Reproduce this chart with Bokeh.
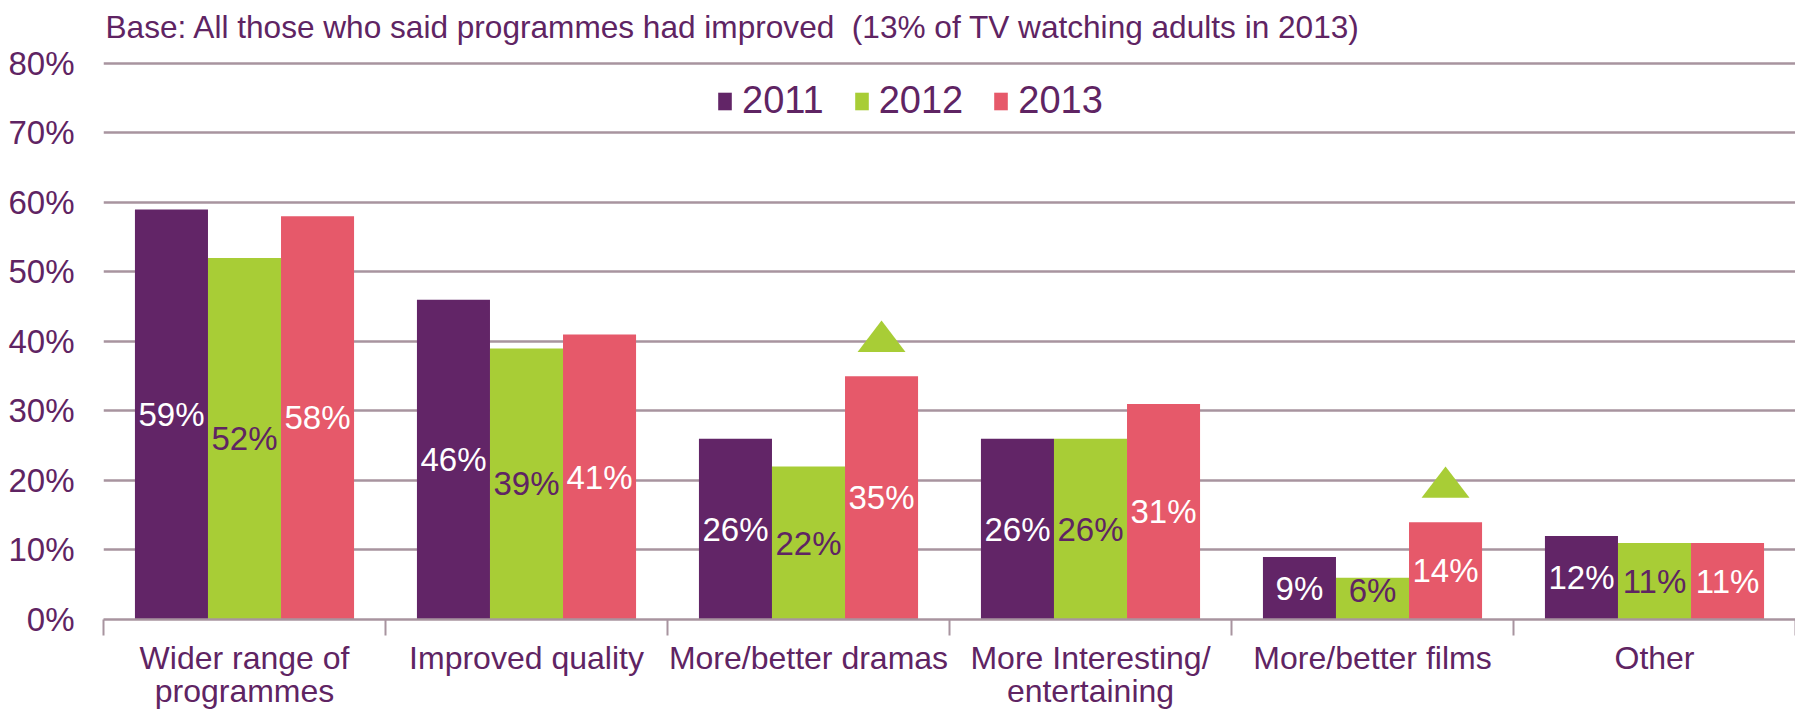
import numpy as np
from bokeh.plotting import figure
from bokeh.models import FixedTicker, Legend, LegendItem, ColumnDataSource, Range1d
from bokeh.core.properties import value
from bokeh.embed import file_html
from bokeh.resources import INLINE

# ---- data ----
categories = ["Wider range of\nprogrammes", "Improved quality", "More/better dramas",
              "More Interesting/\nentertaining", "More/better films", "Other"]
years = ["2011", "2012", "2013"]
v2011 = [59, 46, 26, 26, 9, 12]
v2012 = [52, 39, 22, 26, 6, 11]
v2013 = [58, 41, 35, 31, 14, 11]
sig_up_2013 = [False, False, True, False, True, False]
y_ticks = [0, 10, 20, 30, 40, 50, 60, 70, 80]
title_text = "Base: All those who said programmes had improved\u00a0 (13% of TV watching adults in 2013)"

# ---- style ----
FONT = "Liberation Sans"
PURPLE = "#622567"
GREEN = "#a8cd36"
RED = "#e6596a"
TEXT = "#5f2463"
GRID = "#a8949f"
colors = [PURPLE, GREEN, RED]
label_colors = ["white", TEXT, "white"]
BW = 0.259

p = figure(frame_width=1692, frame_height=570, output_backend="svg", toolbar_location=None,
           x_range=Range1d(0, 6), y_range=Range1d(0, 82),
           min_border_left=103, min_border_right=0, min_border_top=49, min_border_bottom=0)
p.outline_line_color = None
p.background_fill_color = "white"

p.title.text = title_text
p.title.text_font = FONT
p.title.text_font_size = "31.6px"
p.title.text_font_style = "normal"
p.title.text_color = TEXT
p.title.align = "left"
p.title.offset = 2

centers = np.arange(len(categories)) + 0.5
series = [v2011, v2012, v2013]
renderers = []
for k, (vals, col, lcol) in enumerate(zip(series, colors, label_colors)):
    xs = centers + (k - 1) * BW
    src = ColumnDataSource(dict(x=xs, top=vals,
                                ly=[max(v / 2, 4.2) for v in vals],
                                txt=[f"{v}%" for v in vals]))
    r = p.vbar(x="x", top="top", width=BW, bottom=0, source=src, fill_color=col, line_color=None)
    renderers.append(r)
    p.text(x="x", y="ly", text="txt", source=src, text_align="center", text_baseline="middle",
           text_font=value(FONT), text_font_size="33px", text_color=lcol)

# significance triangles (2013 increases)
tri_x = [c + BW for c, s in zip(centers, sig_up_2013) if s]
tri_v = [v for v, s in zip(v2013, sig_up_2013) if s]
tw = 0.085
p.patches(xs=[[x - tw, x + tw, x] for x in tri_x],
          ys=[[v + 3.5, v + 3.5, v + 8.0] for v in tri_v],
          fill_color=GREEN, line_color=None)

# axes
p.yaxis.ticker = FixedTicker(ticks=y_ticks)
p.yaxis.major_label_overrides = {t: f"{t}%" for t in y_ticks}
p.yaxis.axis_line_color = None
p.yaxis.major_tick_line_color = None
p.yaxis.minor_tick_line_color = None
p.yaxis.major_label_text_font = FONT
p.yaxis.major_label_text_font_size = "33px"
p.yaxis.major_label_text_color = TEXT
p.yaxis.major_label_standoff = 23

p.xaxis.ticker = FixedTicker(ticks=list(centers), minor_ticks=list(range(len(categories) + 1)))
p.xaxis.major_label_overrides = {float(c): lab for c, lab in zip(centers, categories)}
p.xaxis.major_tick_line_color = None
p.xaxis.major_tick_out = 0
p.xaxis.major_tick_in = 0
p.xaxis.minor_tick_line_color = GRID
p.xaxis.minor_tick_line_width = 2
p.xaxis.minor_tick_out = 16
p.xaxis.minor_tick_in = 0
p.xaxis.axis_line_color = GRID
p.xaxis.axis_line_width = 2.5
p.xaxis.major_label_text_font = FONT
p.xaxis.major_label_text_font_size = "32px"
p.xaxis.major_label_text_color = TEXT
p.xaxis.major_label_text_line_height = 0.92
p.xaxis.major_label_standoff = 4

p.xgrid.grid_line_color = None
p.ygrid.ticker = FixedTicker(ticks=y_ticks)
p.ygrid.grid_line_color = GRID
p.ygrid.grid_line_width = 2.5

legend = Legend(items=[LegendItem(label=y, renderers=[r]) for y, r in zip(years, renderers)],
                orientation="horizontal", location=(613, 497),
                glyph_width=17, glyph_height=22, label_standoff=9, spacing=29,
                padding=0, margin=0, background_fill_alpha=0, border_line_color=None,
                label_text_font=FONT, label_text_font_size="38px", label_text_color=TEXT)
p.add_layout(legend)

open("out.html", "w").write(file_html(p, INLINE))
